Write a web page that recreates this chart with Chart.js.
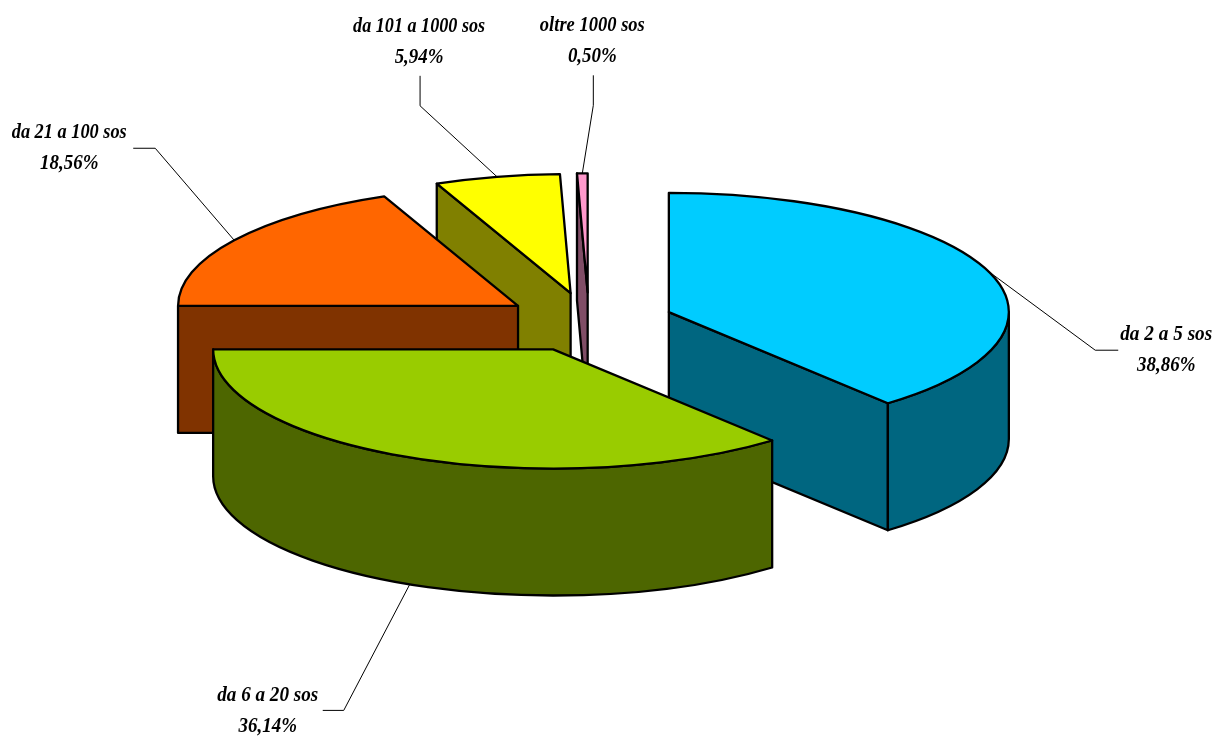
<!DOCTYPE html>
<html>
<head>
<meta charset="utf-8">
<title>sos</title>
<script src="https://cdn.jsdelivr.net/npm/chart.js@4"></script>
<style>
	html, body { margin: 0; padding: 0; background: #fff; }
	canvas { display: block; }
</style>
</head>
<body>
<canvas id="pie3d" width="1215" height="737"></canvas>
<script>
const categories = ['da 2 a 5 sos', 'da 6 a 20 sos', 'da 21 a 100 sos', 'da 101 a 1000 sos', 'oltre 1000 sos'];
const shares = [38.86, 36.14, 18.56, 5.94, 0.5];
const topColors = ['#00CCFF', '#99CC00', '#FF6600', '#FFFF00', '#FF99CC'];
const wallColors = ['#006680', '#4D6600', '#803300', '#808000', '#804D66'];

// look of the fake 3d
const TILT = 119.2 / 340;
const DEPTH = 127;
const EXPLODE = 85;
const LINE = 2.3;

// leader line bends and label centres, relative to where the leader leaves the slice
const leaderBends = [
	[[107, 79], [130, 79]],
	[[-66, 126], [-87, 126]],
	[[-79, -92], [-101, -92]],
	[[-77, -71], [-77, -101]],
	[[11, -68], [11, -98]],
];
const labelOffsets = [
	[178, 63],
	[-142, 111],
	[-165, -108],
	[-78, -151],
	[10, -148],
];
const labelWidths = [92, 101, 115, 132, 105];

function arcInfo(arc) {
	const mid = (arc.startAngle + arc.endAngle) / 2;
	const off = arc.options.offset;
	return {
		cx: arc.x + Math.cos(mid) * off,
		cy: arc.y + Math.sin(mid) * off * TILT,
		r: arc.outerRadius,
		start: arc.startAngle,
		end: arc.endAngle,
		mid: mid,
	};
}

function rimPoint(s, angle) {
	return [s.cx + Math.cos(angle) * s.r, s.cy + Math.sin(angle) * s.r * TILT];
}

function strokeFill(ctx, color) {
	ctx.fillStyle = color;
	ctx.fill();
	ctx.stroke();
}

function drawWalls(ctx, s, color) {
	// radial wall on the side that looks at the viewer
	[s.start, s.end].forEach(function (a) {
		const isFront = a === s.start ? Math.cos(a) < 0 : Math.cos(a) > 0;
		if (!isFront) return;
		const p = rimPoint(s, a);
		ctx.beginPath();
		ctx.moveTo(s.cx, s.cy);
		ctx.lineTo(p[0], p[1]);
		ctx.lineTo(p[0], p[1] + DEPTH);
		ctx.lineTo(s.cx, s.cy + DEPTH);
		ctx.closePath();
		strokeFill(ctx, color);
	});
	// outer rim, only the part in the front half (angle 0..PI on canvas, also after a full turn)
	[0, 2 * Math.PI].forEach(function (turn) {
		const from = Math.max(s.start, turn);
		const to = Math.min(s.end, turn + Math.PI);
		if (to <= from) return;
		ctx.beginPath();
		ctx.ellipse(s.cx, s.cy, s.r, s.r * TILT, 0, from, to);
		ctx.ellipse(s.cx, s.cy + DEPTH, s.r, s.r * TILT, 0, to, from, true);
		ctx.closePath();
		strokeFill(ctx, color);
	});
}

function drawTop(ctx, s, color) {
	ctx.beginPath();
	ctx.moveTo(s.cx, s.cy);
	ctx.ellipse(s.cx, s.cy, s.r, s.r * TILT, 0, s.start, s.end);
	ctx.closePath();
	strokeFill(ctx, color);
}

const pie3d = {
	id: 'pie3d',
	beforeDatasetsDraw(chart) {
		const ctx = chart.ctx;
		const arcs = chart.getDatasetMeta(0).data;
		const slices = arcs.map(function (arc, i) { return { s: arcInfo(arc), i: i }; });
		ctx.save();
		ctx.strokeStyle = '#000';
		ctx.lineWidth = LINE;
		ctx.lineJoin = 'round';
		// back to front
		slices.slice().sort(function (a, b) { return a.s.cy - b.s.cy; }).forEach(function (o) {
			drawWalls(ctx, o.s, wallColors[o.i]);
			drawTop(ctx, o.s, topColors[o.i]);
		});
		ctx.restore();
		return false;
	},
	afterDraw(chart) {
		const ctx = chart.ctx;
		const arcs = chart.getDatasetMeta(0).data;
		ctx.save();
		arcs.forEach(function (arc, i) {
			const s = arcInfo(arc);
			const p = rimPoint(s, s.mid);
			const from = [p[0], p[1] + (Math.sin(s.mid) > 0.5 ? DEPTH : 0)];
			ctx.beginPath();
			ctx.strokeStyle = '#000';
			ctx.lineWidth = 1;
			ctx.moveTo(from[0], from[1]);
			leaderBends[i].forEach(function (b) { ctx.lineTo(from[0] + b[0], from[1] + b[1]); });
			ctx.stroke();

			ctx.fillStyle = '#000';
			ctx.font = 'italic bold 22px "Liberation Serif"';
			ctx.textAlign = 'center';
			ctx.textBaseline = 'middle';
			const lx = from[0] + labelOffsets[i][0];
			const ly = from[1] + labelOffsets[i][1];
			ctx.fillText(categories[i], lx, ly, labelWidths[i]);
			const pct = shares[i].toFixed(2).replace('.', ',') + '%';
			ctx.fillText(pct, lx, ly + 31, ctx.measureText(pct).width * 0.86);
		});
		ctx.restore();
	},
};

new Chart(document.getElementById('pie3d'), {
	type: 'pie',
	data: {
		labels: categories,
		datasets: [
			{
				data: shares,
				backgroundColor: topColors,
				offset: EXPLODE,
				borderWidth: 0,
			},
		],
	},
	options: {
		responsive: false,
		animation: false,
		radius: 340,
		layout: { padding: { left: 0, right: 37, top: 0, bottom: 92.4 } },
		plugins: {
			legend: { display: false },
			tooltip: { enabled: false },
		},
	},
	plugins: [pie3d],
});
</script>
</body>
</html>
